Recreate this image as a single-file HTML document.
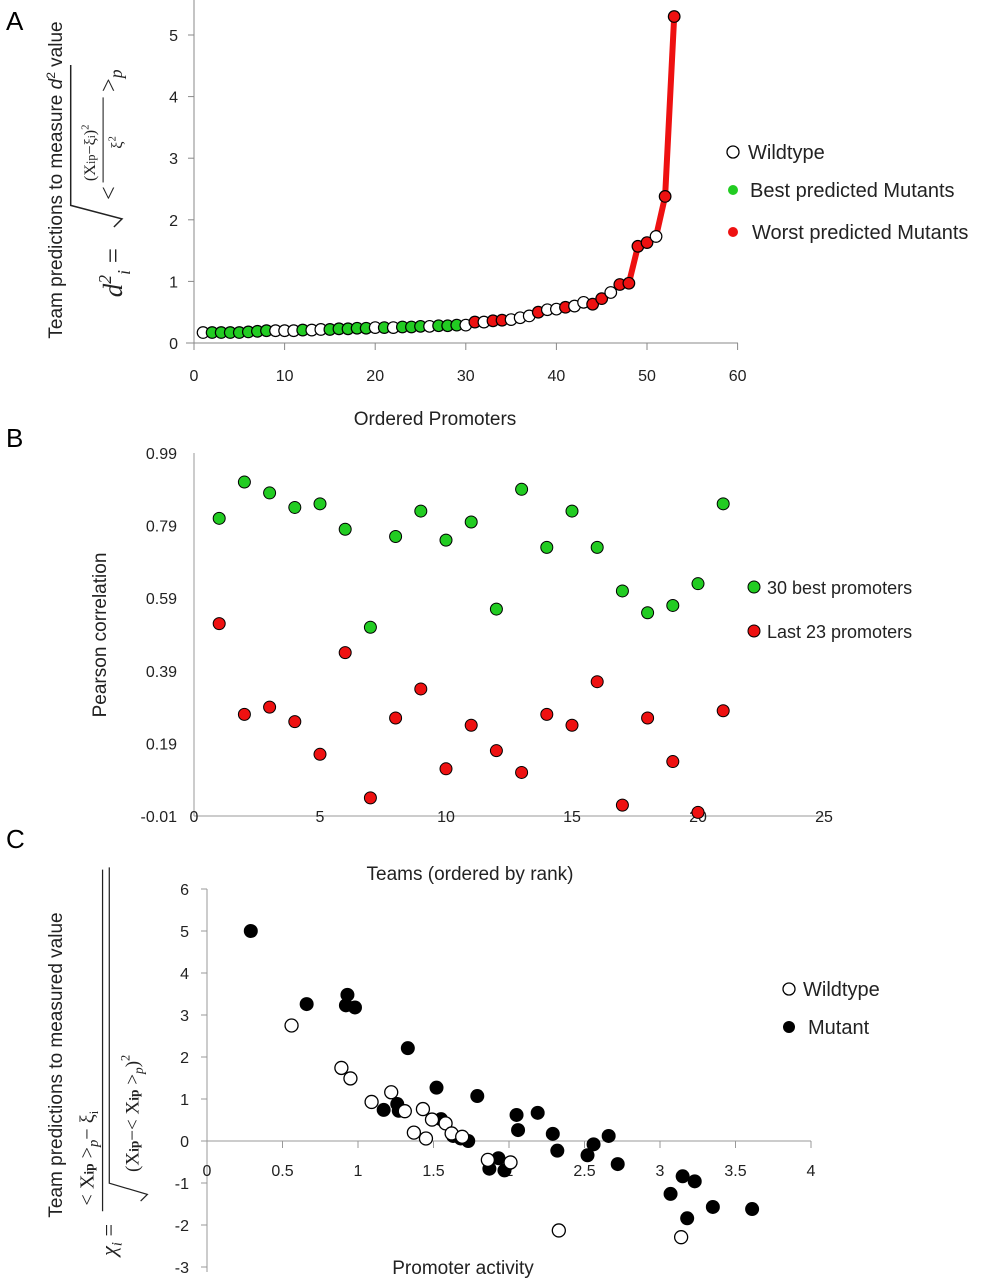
<!DOCTYPE html>
<html><head><meta charset="utf-8"><style>
html,body{margin:0;padding:0;background:#fff;}
svg{display:block;font-family:"Liberation Sans",sans-serif;}
</style></head><body>
<svg id="fig" width="1007" height="1280" viewBox="0 0 1007 1280">
<text x="6" y="30" font-size="26">A</text>
<text x="6" y="447" font-size="26">B</text>
<text x="6" y="848" font-size="26">C</text>

<!-- Panel A titles -->
<text transform="translate(62,180) rotate(-90)" font-size="19" text-anchor="middle" fill="#222">Team predictions to measure <tspan font-style="italic">d</tspan><tspan font-size="12" dy="-7">2</tspan><tspan dy="7"> value</tspan></text>
<g transform="translate(122,200) rotate(-90) scale(1.35)" font-family="Liberation Serif,serif" fill="#222">
<text x="-72" y="0" font-size="20" font-style="italic">d<tspan font-size="13" dy="-8">2</tspan><tspan font-size="13" dy="14">i</tspan><tspan dy="-6" font-style="normal" font-size="20"> =</tspan></text>
<path d="M-20,-6 L-14,0 L-4,-38 L100,-38" stroke="#222" stroke-width="1.1" fill="none"/>
<text x="0" y="-4" font-size="18">&lt;</text>
<text x="14" y="-20" font-size="12">(X<tspan font-size="9">ip</tspan>−ξ<tspan font-size="8">i</tspan>)<tspan font-size="8" dy="-5">2</tspan></text>
<line x1="13" y1="-14" x2="76" y2="-14" stroke="#222" stroke-width="0.8"/>
<text x="38" y="0" font-size="12">ξ<tspan font-size="8" dy="-5">2</tspan></text>
<text x="80" y="-4" font-size="18">&gt;<tspan font-style="italic" font-size="13" dy="4">p</tspan></text>
</g>
<text x="435" y="425" font-size="19" text-anchor="middle" fill="#222">Ordered Promoters</text>
<g id="chartA"></g>
<g font-size="20" fill="#222">
<circle cx="733" cy="152" r="6" fill="#fff" stroke="#000" stroke-width="1.3"/><text x="748" y="159">Wildtype</text>
<circle cx="733" cy="190" r="5" fill="#22cc22"/><text x="750" y="197">Best predicted Mutants</text>
<circle cx="733" cy="232" r="5" fill="#ee1111"/><text x="752" y="239">Worst predicted Mutants</text>
</g>

<!-- Panel B -->
<text transform="translate(106,635) rotate(-90)" font-size="19" text-anchor="middle" fill="#222">Pearson correlation</text>
<text x="470" y="880" font-size="19" text-anchor="middle" fill="#222">Teams (ordered by rank)</text>
<g id="chartB"></g>
<g font-size="18" fill="#222">
<circle cx="754" cy="587" r="6" fill="#22cc22" stroke="#000" stroke-width="1"/><text x="767" y="594">30 best promoters</text>
<circle cx="754" cy="631" r="6" fill="#ee1111" stroke="#000" stroke-width="1"/><text x="767" y="638">Last 23 promoters</text>
</g>

<!-- Panel C -->
<text transform="translate(62,1065) rotate(-90)" font-size="19" text-anchor="middle" fill="#222">Team predictions to measured value</text>
<g transform="translate(116,1060) rotate(-90) scale(1.12)" font-family="Liberation Serif,serif" fill="#222">
<text x="-175" y="0" font-size="20" font-style="italic">χ<tspan font-size="13" dy="5">i</tspan><tspan dy="-5" font-style="normal"> =</tspan></text>
<text x="-130" y="-20" font-size="18">&lt; X<tspan font-size="12" font-weight="bold">ip</tspan> &gt;<tspan font-style="italic" font-size="13" dy="4">p</tspan><tspan dy="-4">− ξ</tspan><tspan font-size="11" dy="4">i</tspan></text>
<line x1="-135" y1="-12" x2="170" y2="-12" stroke="#222" stroke-width="1.1"/>
<path d="M-126,22 L-120,28 L-110,-6 L172,-6" stroke="#222" stroke-width="1.1" fill="none"/>
<text x="-100" y="20" font-size="17">(X<tspan font-size="12" font-weight="bold">ip</tspan>−&lt; X<tspan font-size="12" font-weight="bold">ip</tspan> &gt;<tspan font-style="italic" font-size="12" dy="4">p</tspan><tspan dy="-4">)</tspan><tspan font-size="11" dy="-8">2</tspan></text>
</g>
<text x="463" y="1274" font-size="19" text-anchor="middle" fill="#222">Promoter activity</text>
<g id="chartC"></g>
<g font-size="20" fill="#222">
<circle cx="789" cy="989" r="6" fill="#fff" stroke="#000" stroke-width="1.3"/><text x="803" y="996">Wildtype</text>
<circle cx="789" cy="1027" r="6" fill="#000"/><text x="808" y="1034">Mutant</text>
</g>
</svg>
<script>
// Panel A data
const aValues = [0.17,0.17,0.17,0.17,0.17,0.18,0.19,0.2,0.2,0.2,0.2,0.21,0.21,0.22,0.22,0.23,0.23,0.24,0.24,0.25,0.25,0.25,0.26,0.26,0.27,0.27,0.28,0.28,0.29,0.29,0.34,0.34,0.36,0.37,0.38,0.41,0.44,0.5,0.54,0.55,0.58,0.6,0.66,0.63,0.72,0.82,0.95,0.97,1.57,1.63,1.73,2.38,5.3];
const aTypes = "wgggggggwwwgwwgggggwgwgggwgggwrwrrwwwrwwrwwrrwrrrrwrr";
const aXTicks = [0,10,20,30,40,50,60];
const aYTicks = [0,1,2,3,4,5];
// Panel B data
const bTeams = [1,2,3,4,5,6,7,8,9,10,11,12,13,14,15,16,17,18,19,20,21];
const bBest = [0.81,0.91,0.88,0.84,0.85,0.78,0.51,0.76,0.83,0.75,0.80,0.56,0.89,0.73,0.83,0.73,0.61,0.55,0.57,0.63,0.85];
const bLast = [0.52,0.27,0.29,0.25,0.16,0.44,0.04,0.26,0.34,0.12,0.24,0.17,0.11,0.27,0.24,0.36,0.02,0.26,0.14,0.0,0.28];
const bXTicks = [0,5,10,15,20,25];
const bYTicks = [-0.01,0.19,0.39,0.59,0.79,0.99];
// Panel C data
const cMutX = [0.29,0.66,0.93,0.92,0.98,1.33,1.17,1.26,1.27,1.52,1.55,1.79,1.63,1.68,1.73,2.05,2.06,2.19,2.29,2.32,1.93,1.87,1.97,2.52,2.56,2.66,2.72,3.07,3.15,3.23,3.18,3.35,3.61];
const cMutY = [5.0,3.26,3.48,3.23,3.18,2.21,0.74,0.88,0.72,1.27,0.52,1.07,0.12,0.06,0.0,0.62,0.26,0.67,0.17,-0.23,-0.41,-0.66,-0.7,-0.34,-0.08,0.12,-0.55,-1.26,-0.84,-0.96,-1.84,-1.57,-1.62];
const cWtX = [0.56,0.89,0.95,1.09,1.22,1.31,1.43,1.49,1.58,1.37,1.45,1.62,1.69,1.86,2.01,2.33,3.14];
const cWtY = [2.75,1.74,1.49,0.93,1.16,0.71,0.76,0.51,0.42,0.2,0.06,0.18,0.1,-0.45,-0.51,-2.13,-2.29];
const cXTicks = [0,0.5,1,1.5,2,2.5,3,3.5,4];
const cYTicks = [-3,-2,-1,0,1,2,3,4,5,6];

const NS="http://www.w3.org/2000/svg";
function mk(parent,tag,attrs,txt){const e=document.createElementNS(NS,tag);for(const k in attrs)e.setAttribute(k,attrs[k]);if(txt!==undefined)e.textContent=txt;parent.appendChild(e);return e;}

// ---- Panel A
const gA=document.getElementById('chartA');
const axA=v=>194+v*9.06, ayA=v=>343-v*61.6;
let e=mk(gA,'line',{x1:194,y1:0,x2:194,y2:345,stroke:'#888','stroke-width':1});


e=mk(gA,'line',{x1:186,y1:343,x2:738,y2:343,stroke:'#888','stroke-width':1});


aXTicks.forEach(t=>{mk(gA,'line',{x1:axA(t),y1:343,x2:axA(t),y2:350,stroke:'#888'});
 e=mk(gA,'text',{x:axA(t),y:381,'font-size':16,'text-anchor':'middle',fill:'#222'},t);
 
 });
aYTicks.forEach(t=>{mk(gA,'line',{x1:188,y1:ayA(t),x2:194,y2:ayA(t),stroke:'#888'});
 e=mk(gA,'text',{x:178,y:ayA(t)+6,'font-size':16,'text-anchor':'end',fill:'#222'},t);
 
 });
let pts=[];for(let i=46;i<aValues.length;i++)pts.push(axA(i+1)+','+ayA(aValues[i]));
e=mk(gA,'polyline',{points:pts.join(' '),fill:'none',stroke:'#ee1111','stroke-width':6,'stroke-linejoin':'round'});


aValues.forEach((v,i)=>{const t=aTypes[i];const f=t==='g'?'#22cc22':t==='r'?'#ee1111':'#fff';
 const c=mk(gA,'circle',{cx:axA(i+1),cy:ayA(v),r:5.8,fill:f,stroke:'#000','stroke-width':1.2});
 
 });

// ---- Panel B
const gB=document.getElementById('chartB');
const axB=v=>194+v*25.2, ayB=v=>816-(v+0.01)*363;
e=mk(gB,'line',{x1:194,y1:453,x2:194,y2:816,stroke:'#999'});


e=mk(gB,'line',{x1:194,y1:816,x2:824,y2:816,stroke:'#999'});


bXTicks.forEach(t=>{e=mk(gB,'text',{x:axB(t),y:822,'font-size':16,'text-anchor':'middle',fill:'#222'},t);
 
 });
bYTicks.forEach(t=>{e=mk(gB,'text',{x:177,y:ayB(t)+6,'font-size':16,'text-anchor':'end',fill:'#222'},t.toFixed(2));
 
 });
bTeams.forEach((t,i)=>{
 let c=mk(gB,'circle',{cx:axB(t),cy:ayB(bBest[i]),r:6,fill:'#22cc22',stroke:'#000','stroke-width':1});
 
 
 c=mk(gB,'circle',{cx:axB(t),cy:ayB(bLast[i]),r:6,fill:'#ee1111',stroke:'#000','stroke-width':1});
 
 });

// ---- Panel C
const gC=document.getElementById('chartC');
const axC=v=>207+v*151, ayC=v=>1141-v*42;
e=mk(gC,'line',{x1:207,y1:ayC(6),x2:207,y2:1272,stroke:'#999'});


e=mk(gC,'line',{x1:207,y1:1141,x2:811,y2:1141,stroke:'#999'});


cXTicks.forEach(t=>{mk(gC,'line',{x1:axC(t),y1:1141,x2:axC(t),y2:1148,stroke:'#999'});
 e=mk(gC,'text',{x:axC(t),y:1176,'font-size':16,'text-anchor':'middle',fill:'#222'},t);
 
 });
cYTicks.forEach(t=>{mk(gC,'line',{x1:201,y1:ayC(t),x2:207,y2:ayC(t),stroke:'#999'});
 e=mk(gC,'text',{x:189,y:ayC(t)+6,'font-size':16,'text-anchor':'end',fill:'#222'},t);
 
 });
cMutX.forEach((x,i)=>{const c=mk(gC,'circle',{cx:axC(x),cy:ayC(cMutY[i]),r:7,fill:'#000'});
 
 });
cWtX.forEach((x,i)=>{const c=mk(gC,'circle',{cx:axC(x),cy:ayC(cWtY[i]),r:6.5,fill:'#fff',stroke:'#000','stroke-width':1.3});
 
 });
</script>
</body></html>
